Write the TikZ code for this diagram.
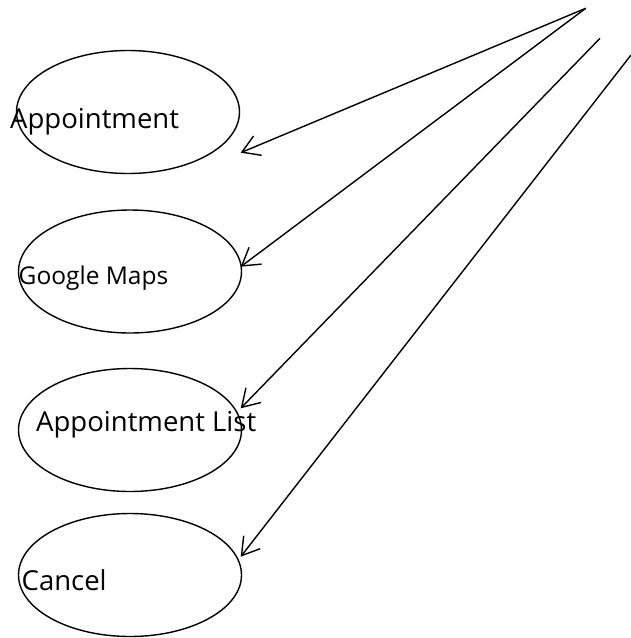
\documentclass[tikz,border=0pt]{standalone}
\usepackage{fontspec}
\setmainfont{Open Sans}
\usetikzlibrary{shapes.geometric,arrows.meta}
\begin{document}
\begin{tikzpicture}[x=1pt,y=-1pt,
  usecase/.style={draw, ellipse, line width=1.4pt, inner sep=0pt,
    minimum width=223pt, minimum height=123pt},
  caption/.style={anchor=base west, inner sep=0pt, font=\fontsize{27.5}{30}\selectfont},
  link/.style={line width=1.4pt, -{Straight Barb[length=17pt,width=21pt,line width=1.4pt]}}]
  \useasboundingbox (0,0) rectangle (631,638);

  % use cases
  \node[usecase] (e1) at (128,112) {};
  \node[usecase] (e2) at (130,271.5) {};
  \node[usecase] (e3) at (130,430) {};
  \node[usecase] (e4) at (130,575) {};

  % their captions
  \node[caption] (t1) at (10,128.5) {Appointment};
  \node[caption, font=\fontsize{24.5}{26}\selectfont] (t2) at (18.5,284) {Google Maps};
  \node[caption] (t3) at (36,431) {Appointment List};
  \node[caption] (t4) at (21.5,590.5) {Cancel};

  % arrow ends
  \coordinate (s1) at (585.7,8.3);
  \coordinate (s3) at (600,38.3);
  \coordinate (s4) at (631,55);
  \coordinate (h1) at (240.7,152.7);
  \coordinate (h2) at (240.7,266.7);
  \coordinate (h3) at (240.7,408.3);
  \coordinate (h4) at (240.7,556.7);

  \draw[link] (s1) -- (h1);
  \draw[link] (s1) -- (h2);
  \draw[link] (s3) -- (h3);
  \draw[link] (s4) -- (h4);
\end{tikzpicture}
\end{document}
